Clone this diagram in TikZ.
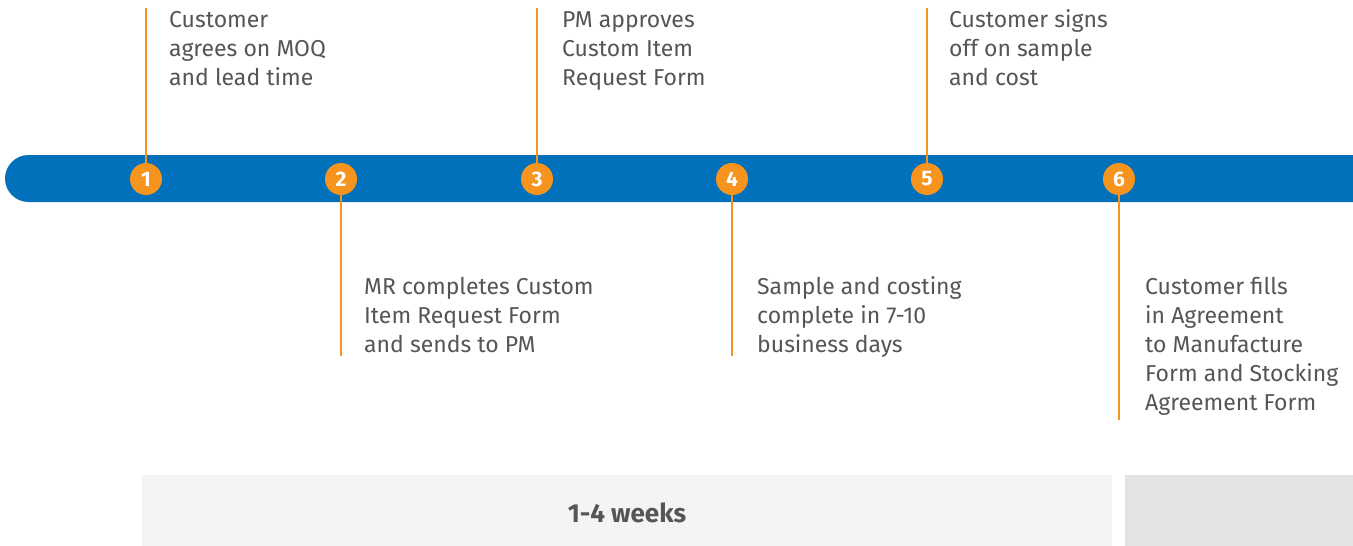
\documentclass[tikz,border=0pt]{standalone}
\usepackage{fontspec}
\setmainfont{Fira Sans}
\definecolor{barblue}{HTML}{0071BA}
\definecolor{orng}{HTML}{F7941D}
\definecolor{txtgray}{HTML}{555555}
\definecolor{boxA}{HTML}{F3F4F6}
\definecolor{boxB}{HTML}{E2E3E5}
\begin{document}
\begin{tikzpicture}[x=1pt,y=-1pt,
  stepdot/.style={circle,fill=orng,minimum size=32pt,inner sep=0pt,text=white,font=\fontsize{21}{21}\selectfont\bfseries},
  lead/.style={draw=orng,line width=2pt},
  desc/.style={anchor=base west,inner sep=0pt,align=left,text=txtgray,font=\fontsize{23}{29}\selectfont}]
\useasboundingbox (0,0) rectangle (1353,546);
% bar
\fill[barblue,rounded corners=23.5pt] (5,155) rectangle (1400,202);
% gray boxes
\fill[boxA] (142,475) rectangle (1112,546);
\fill[boxB] (1125,475) rectangle (1353,546);
\node[anchor=base,inner sep=0pt,text=txtgray,font=\fontsize{26}{26}\selectfont\bfseries] (dur) at (627,522) {1-4 weeks};
% lead endpoints
\coordinate (t1) at (146,8);
\coordinate (t3) at (537,8);
\coordinate (t5) at (927,8);
\coordinate (b2) at (341,356);
\coordinate (b4) at (732,356);
\coordinate (b6) at (1119,420);
% dots
\node[stepdot] (s1) at (146,179) {1};
\node[stepdot] (s2) at (341,179) {2};
\node[stepdot] (s3) at (537,179) {3};
\node[stepdot] (s4) at (732,179) {4};
\node[stepdot] (s5) at (927,179) {5};
\node[stepdot] (s6) at (1119,179) {6};
% leads
\draw[lead] (t1) -- (s1);
\draw[lead] (t3) -- (s3);
\draw[lead] (t5) -- (s5);
\draw[lead] (b2) -- (s2);
\draw[lead] (b4) -- (s4);
\draw[lead] (b6) -- (s6);
% texts (anchored at last line's baseline)
\node[desc] (d1) at (169,85) {Customer\\agrees on MOQ\\and lead time};
\node[desc] (d3) at (562,85) {PM approves\\Custom Item\\Request Form};
\node[desc] (d5) at (949,85) {Customer signs\\off on sample\\and cost};
\node[desc] (d2) at (364,352) {MR completes Custom\\Item Request Form\\and sends to PM};
\node[desc] (d4) at (757,352) {Sample and costing\\complete in 7-10\\business days};
\node[desc] (d6) at (1145,410) {Customer fills\\in Agreement\\to Manufacture\\Form and Stocking\\Agreement Form};
\end{tikzpicture}
\end{document}
